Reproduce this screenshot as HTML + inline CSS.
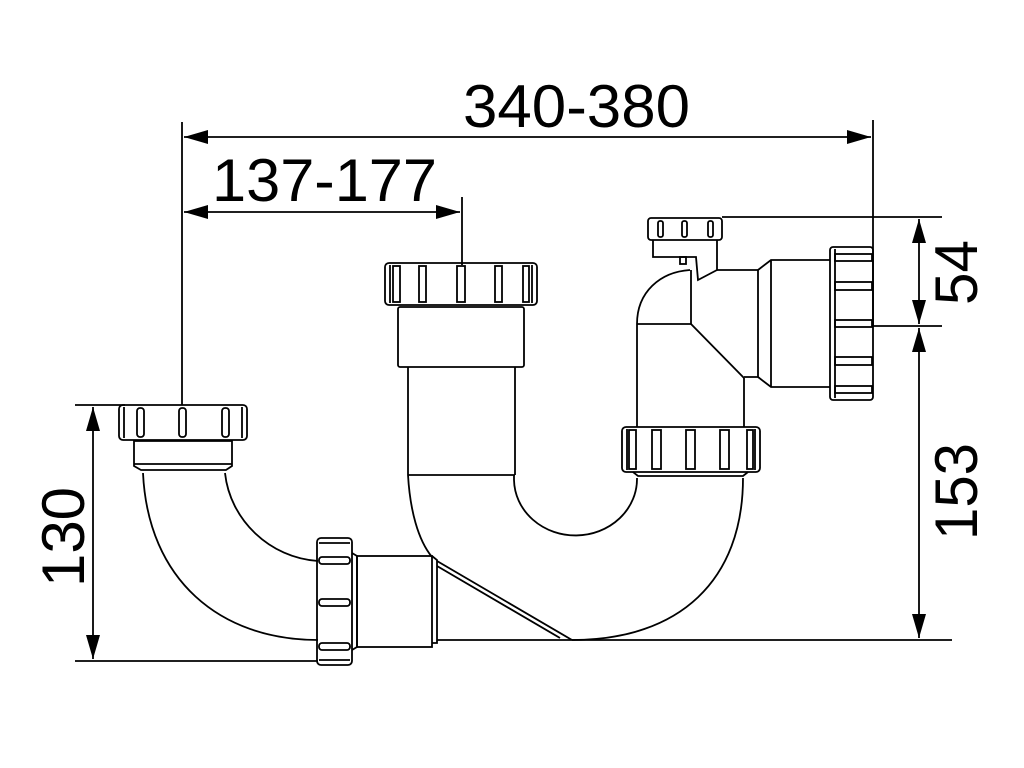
<!DOCTYPE html>
<html><head><style>html,body{margin:0;padding:0;background:#fff}svg{display:block}</style></head><body>
<svg width="1024" height="768" viewBox="0 0 1024 768" xmlns="http://www.w3.org/2000/svg">
<defs>
<marker id="a" viewBox="0 0 24 14" refX="24" refY="7" markerWidth="24" markerHeight="14" markerUnits="userSpaceOnUse" orient="auto-start-reverse"><path d="M0 0L24 7L0 14Z" fill="#000"/></marker>
</defs>
<g fill="none" stroke="#000" stroke-width="1.8">
<!-- dimension lines -->
<line x1="182" y1="122" x2="182" y2="405"/>
<line x1="873" y1="120" x2="873" y2="326"/>
<line x1="462" y1="197" x2="462" y2="265"/>
<line x1="184" y1="137" x2="871" y2="137" marker-start="url(#a)" marker-end="url(#a)"/>
<line x1="184" y1="212" x2="460" y2="212" marker-start="url(#a)" marker-end="url(#a)"/>
<line x1="722" y1="217" x2="942" y2="217"/>
<line x1="873" y1="326" x2="942" y2="326"/>
<line x1="437" y1="640" x2="952" y2="640"/>
<line x1="919" y1="219" x2="919" y2="324" marker-start="url(#a)" marker-end="url(#a)"/>
<line x1="919" y1="328" x2="919" y2="638" marker-start="url(#a)" marker-end="url(#a)"/>
<line x1="75" y1="405" x2="125" y2="405"/>
<line x1="75" y1="661" x2="318" y2="661"/>
<line x1="93" y1="407" x2="93" y2="659" marker-start="url(#a)" marker-end="url(#a)"/>

<!-- left nut -->
<rect x="119" y="405" width="128" height="35" rx="4"/>
<line x1="124" y1="407" x2="124" y2="438"/><line x1="242" y1="407" x2="242" y2="438"/>
<rect x="137" y="408" width="7" height="29" rx="3"/>
<rect x="179" y="408" width="7" height="29" rx="3"/>
<rect x="222" y="408" width="7" height="29" rx="3"/>
<path d="M134 441H232V466L226 470H141L134 466Z"/>
<line x1="134" y1="464" x2="232" y2="464"/>
<!-- left elbow -->
<path d="M143 473C148 580 220 640 318 640"/>
<path d="M225 473C230 520 270 558 318 561"/>
<!-- sideways nut -->
<rect x="317" y="538" width="35" height="127" rx="4"/>
<line x1="319" y1="543" x2="350" y2="543"/><line x1="319" y1="660" x2="350" y2="660"/>
<rect x="319" y="557" width="31" height="7" rx="3"/>
<rect x="319" y="599" width="31" height="7" rx="3"/>
<rect x="319" y="643" width="31" height="7" rx="3"/>
<path d="M352 553L357 556V647L352 650"/>
<rect x="357" y="556" width="75" height="91"/>
<path d="M432 556L437 560V643H432"/>
<!-- main vertical pipe -->
<rect x="385" y="263" width="152" height="42" rx="4"/>
<line x1="390" y1="265" x2="390" y2="303"/><line x1="532" y1="265" x2="532" y2="303"/>
<rect x="393" y="266" width="7" height="36"/>
<rect x="419" y="266" width="7" height="36"/>
<rect x="457" y="266" width="8" height="36"/>
<rect x="495" y="266" width="7" height="36"/>
<rect x="523" y="266" width="6" height="36"/>
<rect x="398" y="307" width="126" height="60" rx="2"/>
<line x1="408" y1="367" x2="408" y2="475"/>
<line x1="515" y1="367" x2="515" y2="475"/>
<line x1="408" y1="475" x2="515" y2="475"/>
<path d="M408 475C410 510 418 540 432 557"/>
<path d="M437 561L572 640"/>
<path d="M437 566L560 638"/>
<!-- U bend -->
<path d="M514 475V480A61 56 0 0 0 637 478"/>
<path d="M743 478C743 580 680 640 572 640"/>
<!-- right middle nut -->
<rect x="622" y="427" width="138" height="45" rx="4"/>
<line x1="627" y1="429" x2="627" y2="470"/><line x1="755" y1="429" x2="755" y2="470"/>
<rect x="629" y="430" width="7" height="39"/>
<rect x="652" y="430" width="9" height="39"/>
<rect x="686" y="430" width="9" height="39"/>
<rect x="720" y="430" width="9" height="39"/>
<rect x="747" y="430" width="6" height="39"/>
<path d="M633 472L638 476H743L748 472"/>
<!-- right upper body -->
<line x1="637" y1="324" x2="637" y2="427"/>
<line x1="744" y1="378" x2="744" y2="427"/>
<path d="M637 324C637 292 660 272 690 270"/>
<line x1="637" y1="324" x2="691" y2="324"/>
<line x1="691" y1="270" x2="691" y2="324"/>
<line x1="691" y1="324" x2="744" y2="378"/>
<path d="M717 270H758V377H744"/>
<path d="M758 270L771 260H830M758 377L771 387H830"/>
<line x1="771" y1="260" x2="771" y2="387"/>
<!-- right big nut -->
<rect x="830" y="247" width="43" height="153" rx="3"/>
<line x1="835" y1="249" x2="835" y2="398"/>
<rect x="835" y="254" width="37" height="7"/>
<rect x="835" y="282" width="37" height="8"/>
<rect x="835" y="320" width="37" height="7"/>
<rect x="835" y="357" width="37" height="8"/>
<rect x="835" y="386" width="37" height="7"/>
<!-- top small nut -->
<rect x="648" y="218" width="74" height="22" rx="3"/>
<rect x="658" y="221" width="5" height="16" rx="2"/>
<rect x="682" y="221" width="5" height="16" rx="2"/>
<rect x="708" y="221" width="5" height="16" rx="2"/>
<path d="M653 240V257H696L698 280L717 270V240"/>
<rect x="680" y="257" width="6" height="7"/>
</g>
<g font-family="'Liberation Sans', sans-serif" font-size="60" fill="#000">
<text x="463" y="127" textLength="227" lengthAdjust="spacingAndGlyphs">340-380</text>
<text x="212" y="201" textLength="225" lengthAdjust="spacingAndGlyphs">137-177</text>
<text transform="translate(977,305) rotate(-90)" textLength="65" lengthAdjust="spacingAndGlyphs">54</text>
<text transform="translate(977,540) rotate(-90)" textLength="97" lengthAdjust="spacingAndGlyphs">153</text>
<text transform="translate(84,587) rotate(-90)" textLength="100" lengthAdjust="spacingAndGlyphs">130</text>
</g>
</svg>
</body></html>
